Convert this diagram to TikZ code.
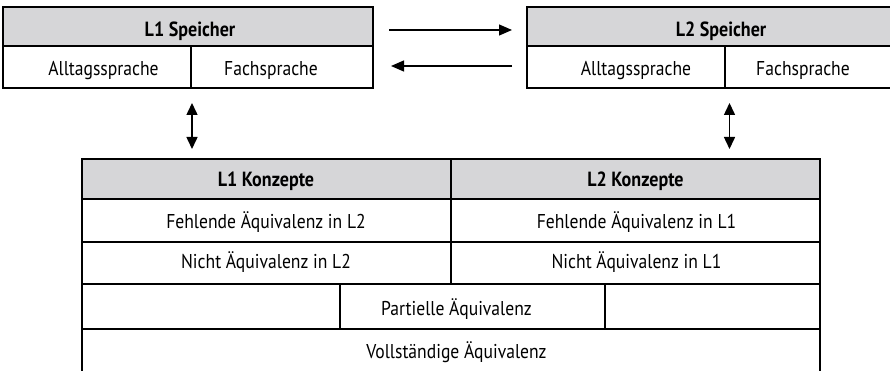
\documentclass[tikz,border=0pt]{standalone}
\usepackage{fontspec}
\setmainfont{PT Sans}[FakeStretch=0.88]
\usetikzlibrary{arrows.meta}
\definecolor{headgray}{RGB}{214,214,216}
\begin{document}
\begin{tikzpicture}[x=1pt,y=-1pt,
  frame/.style={draw=black,line width=1.3pt},
  txt/.style={anchor=base,inner sep=0pt,font=\fontsize{20}{22}\selectfont},
  htxt/.style={txt,font=\fontsize{20.5}{22}\selectfont\bfseries},
  link/.style={line width=1.2pt,-{Triangle[length=13pt,width=11pt]}},
  both/.style={line width=1.5pt,{Triangle[length=12pt,width=11pt]}-{Triangle[length=12pt,width=11pt]}}]
\useasboundingbox (0,0) rectangle (890,371);
\clip (0,0) rectangle (890,371);

% L1 memory
\fill[headgray] (3,7) rectangle (373,46);
\draw[frame] (3,7) rectangle (373,88);
\draw[frame] (3,46) -- (373,46) (191,46) -- (191,88);
\node[htxt] (l1mem) at (190,36.7) {L1 Speicher};
\node[txt] (l1all) at (103.5,76) {Alltagssprache};
\node[txt] (l1fach) at (271,76) {Fachsprache};

% L2 memory (runs past the right edge)
\fill[headgray] (527,7) rectangle (900,46);
\draw[frame] (900,7) -- (527,7) -- (527,88) -- (900,88);
\draw[frame] (527,46) -- (900,46) (725,46) -- (725,88);
\node[htxt] (l2mem) at (721,36.7) {L2 Speicher};
\node[txt] (l2all) at (636,76) {Alltagssprache};
\node[txt] (l2fach) at (803,76) {Fachsprache};

% exchange between the two memories
\coordinate (r1) at (389,30);
\coordinate (r2) at (512,30);
\coordinate (s1) at (512,66);
\coordinate (s2) at (391,66);
\draw[link] (r1) -- (r2);
\draw[link] (s1) -- (s2);

% concept table (open at the bottom)
\fill[headgray] (82,159) rectangle (820,199);
\draw[frame] (82,380) -- (82,159) -- (820,159) -- (820,380);
\draw[frame] (82,199) -- (820,199) (82,242) -- (820,242)
  (82,284) -- (820,284) (82,329) -- (820,329);
\draw[frame] (451,159) -- (451,284);
\draw[frame] (340,284) -- (340,329) (605,284) -- (605,329);

\node[htxt] (l1con) at (266,186.7) {L1 Konzepte};
\node[htxt] (l2con) at (635.5,186.7) {L2 Konzepte};
\node[txt] (fe2) at (266,228.3) {Fehlende Äquivalenz in L2};
\node[txt] (fe1) at (636.5,228.3) {Fehlende Äquivalenz in L1};
\node[txt] (ni2) at (266,268.3) {Nicht Äquivalenz in L2};
\node[txt] (ni1) at (636.5,268.3) {Nicht Äquivalenz in L1};
\node[txt] (part) at (456.5,315) {Partielle Äquivalenz};
\node[txt] (voll) at (456.5,358) {Vollständige Äquivalenz};

% links between memories and concepts
\coordinate (u1) at (192,103);
\coordinate (d1) at (192,149);
\coordinate (u2) at (729.5,103);
\coordinate (d2) at (729.5,149);
\draw[both] (u1) -- (d1);
\draw[both] (u2) -- (d2);
\end{tikzpicture}
\end{document}
